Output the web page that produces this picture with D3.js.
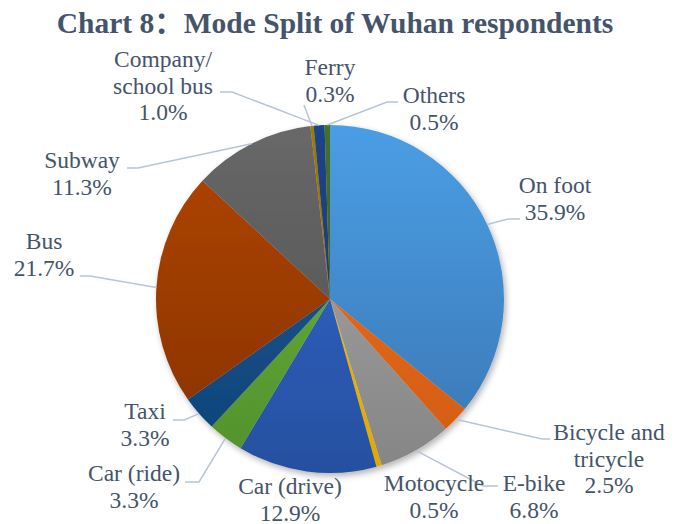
<!DOCTYPE html>
<html>
<head>
<meta charset="utf-8">
<script src="https://cdn.jsdelivr.net/npm/d3@7"></script>
<style>
  html, body { margin: 0; padding: 0; background: #fff; }
  svg { display: block; }
  .lbl, .lbl tspan { font-family: "Liberation Serif"; font-size: 23.5px; }
  .ttl { font-family: "Liberation Serif"; font-weight: bold; font-size: 29.5px; }
  .ttl .cjk { font-family: "Noto Sans CJK SC"; }
</style>
</head>
<body>
<svg id="chart" width="676" height="524"></svg>
<script>
// ---- data ----
const titleParts = ["Chart 8", "\uFF1A", "Mode Split of Wuhan respondents"];
const categories = ["On foot", "Bicycle and tricycle", "E-bike", "Motocycle", "Car (drive)", "Car (ride)",
                    "Taxi", "Bus", "Subway", "Ferry", "Company/school bus", "Others"];
const values = [35.9, 2.5, 6.8, 0.5, 12.9, 3.3, 3.3, 21.7, 11.3, 0.3, 1.0, 0.5];
const labelLines = [["On foot"], ["Bicycle and", "tricycle"], ["E-bike"], ["Motocycle"], ["Car (drive)"], ["Car (ride)"],
                    ["Taxi"], ["Bus"], ["Subway"], ["Ferry"], ["Company/", "school bus"], ["Others"]];

// ---- styles / layout ----
const palette = [
  ["#4A9EE5", "#3A76B2"], ["#F07424", "#D25A0E"], ["#ABABAB", "#858585"], ["#FFC000", "#E0A800"],
  ["#3469D0", "#2650A0"], ["#6DB83E", "#52902C"], ["#1C5C9C", "#0E4275"], ["#B24500", "#853200"],
  ["#686868", "#4E4E4E"], ["#A07A00", "#8A6800"], ["#1F4487", "#18366D"], ["#44702A", "#375A22"]
];
const labelLayout = [
  { x: 555, y: 193, leader: [[520, 219], [508, 219]] },
  { x: 609, y: 440, leader: [[550, 439], [542, 439]] },
  { x: 534, y: 491, leader: [[498, 486], [483, 486]] },
  { x: 434, y: 491, leader: null },
  { x: 290, y: 494, leader: null },
  { x: 134, y: 481, leader: [[185, 482], [199, 482]] },
  { x: 145, y: 419, leader: [[173, 420], [184, 420]] },
  { x: 44,  y: 249, leader: [[80, 276], [90, 276]] },
  { x: 82,  y: 168, leader: [[127, 168], [138, 168]] },
  { x: 330, y: 75,  leader: [[304, 105]] },
  { x: 163, y: 67,  leader: [[220, 92], [232, 92]] },
  { x: 434, y: 103, leader: [[398, 102], [387, 102]] }
];
const cx = 330, cy = 299, r = 174;
const textColor = "#44546A";
const lineColor = "#B7C5D6";
const lineH = 26.5;

const svg = d3.select("#chart");
const defs = svg.append("defs");

const shadow = defs.append("filter").attr("id", "shadow")
  .attr("x", "-10%").attr("y", "-10%").attr("width", "125%").attr("height", "125%");
shadow.append("feDropShadow").attr("dx", 2).attr("dy", 3).attr("stdDeviation", 3)
  .attr("flood-color", "#000").attr("flood-opacity", 0.3);

palette.forEach((p, i) => {
  const g = defs.append("linearGradient").attr("id", "grad" + i)
    .attr("gradientUnits", "userSpaceOnUse")
    .attr("x1", 0).attr("y1", -r).attr("x2", 0).attr("y2", r);
  g.append("stop").attr("offset", "0%").attr("stop-color", p[0]);
  g.append("stop").attr("offset", "100%").attr("stop-color", p[1]);
});

// title
const titleT = svg.append("text")
  .attr("class", "ttl")
  .attr("x", 335).attr("y", 33)
  .attr("text-anchor", "middle")
  .attr("fill", textColor);
titleT.append("tspan").text(titleParts[0]);
titleT.append("tspan").attr("class", "cjk").text(titleParts[1]);
titleT.append("tspan").text(titleParts[2]);

const pie = d3.pie().sort(null).value(d => d).startAngle(0).endAngle(2 * Math.PI);
const arcs = pie(values);
const arc = d3.arc().innerRadius(0).outerRadius(r);

const slicesG = svg.append("g")
  .attr("transform", `translate(${cx},${cy})`)
  .attr("filter", "url(#shadow)");
slicesG.selectAll("path")
  .data(arcs)
  .join("path")
  .attr("d", arc)
  .attr("fill", (d, i) => `url(#grad${i})`);

// leader lines
const leaders = svg.append("g")
  .attr("fill", "none").attr("stroke", lineColor).attr("stroke-width", 1.5);
arcs.forEach((d, i) => {
  const L = labelLayout[i];
  if (!L.leader) return;
  const a = (d.startAngle + d.endAngle) / 2;
  const pt = [cx + r * Math.sin(a), cy - r * Math.cos(a)];
  leaders.append("path").attr("d", d3.line()(L.leader.concat([pt])));
});

// labels
const fmt = d3.format(".1f");
arcs.forEach((d, i) => {
  const L = labelLayout[i];
  const lines = labelLines[i].concat([fmt(values[i]) + "%"]);
  const t = svg.append("text")
    .attr("class", "lbl")
    .attr("x", L.x).attr("y", L.y)
    .attr("text-anchor", "middle")
    .attr("fill", textColor);
  lines.forEach((s, k) => {
    t.append("tspan").attr("x", L.x).attr("y", L.y + k * lineH).text(s);
  });
});
</script>
</body>
</html>
